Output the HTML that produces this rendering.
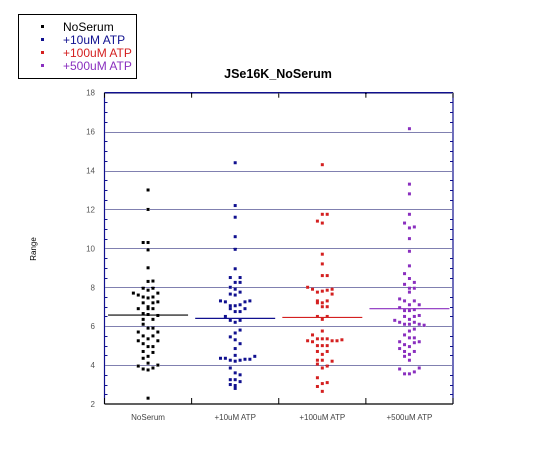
<!DOCTYPE html>
<html><head><meta charset="utf-8"><style>
body{margin:0;background:#fff;}
svg{display:block;font-family:"Liberation Sans",sans-serif;}
</style></head><body>
<svg id="chart" width="540" height="466" viewBox="0 0 540 466" xmlns="http://www.w3.org/2000/svg">
<rect width="540" height="466" fill="#fff"/>
<g>
<rect x="18.5" y="14.5" width="118" height="64" fill="#fff" stroke="#000" stroke-width="1"/>
<rect x="41" y="25" width="3" height="3" fill="#000"/>
<text x="63" y="31" font-size="12" fill="#000">NoSerum</text>
<rect x="41" y="38" width="3" height="3" fill="#10108f"/>
<text x="63" y="44" font-size="12" fill="#10108f">+10uM ATP</text>
<rect x="41" y="51" width="3" height="3" fill="#d42020"/>
<text x="63" y="57" font-size="12" fill="#d42020">+100uM ATP</text>
<rect x="41" y="64" width="3" height="3" fill="#8a2fbf"/>
<text x="63" y="70" font-size="12" fill="#8a2fbf">+500uM ATP</text>
</g>
<text x="278" y="78" font-size="12.5" font-weight="bold" text-anchor="middle">JSe16K_NoSerum</text>
<text transform="translate(36,249) rotate(-90)" font-size="8" text-anchor="middle">Range</text>
<g id="plot"></g>
</svg>
<script>
const categories = ["NoSerum","+10uM ATP","+100uM ATP","+500uM ATP"];
const colors = ["#000000","#10108f","#d42020","#8a2fbf"];
const yTicks = [2,4,6,8,10,12,14,16,18];
const means = [6.57, 6.4, 6.45, 6.9];
// [value, jitter slot]
const noSerum = [[13.0,0],[12.0,0],[10.3,-1],[10.3,0],[9.92,0],[9.0,0],[8.3,0],[8.32,1],[7.95,-1],[7.85,0],[7.95,1],[7.7,-3],[7.7,2],[7.6,-2],[7.5,-1],[7.45,0],[7.5,1],[7.2,-1],[7.2,1],[7.25,2],[7.0,0],[6.9,-2],[6.9,0],[6.9,1],[6.65,-1],[6.6,0],[6.55,2],[6.35,-1],[6.35,1],[6.1,-1],[5.9,0],[5.9,1],[5.7,-2],[5.7,2],[5.5,-1],[5.5,1],[5.35,0],[5.25,-2],[5.25,2],[5.1,-1],[4.95,0],[4.95,1],[4.7,-1],[4.65,1],[4.45,0],[4.35,-1],[4.1,0],[4.0,2],[3.95,-2],[3.85,1],[3.8,-1],[3.75,0],[2.3,0]];
const atp10 = [[14.4,0],[12.2,0],[11.6,0],[10.6,0],[9.95,0],[8.95,0],[8.5,-1],[8.5,1],[8.25,0],[8.25,1],[8.0,-1],[7.9,0],[7.75,1],[7.65,-1],[7.6,0],[7.3,-3],[7.3,3],[7.25,-2],[7.25,2],[7.05,-1],[7.05,0],[7.1,1],[6.9,-1],[6.9,2],[6.75,0],[6.75,1],[6.5,-2],[6.3,-1],[6.3,1],[6.2,0],[5.8,1],[5.65,0],[5.45,-1],[5.3,0],[5.1,1],[4.85,0],[4.5,0],[4.45,4],[4.35,-3],[4.35,-2],[4.3,2],[4.3,3],[4.25,-1],[4.25,1],[4.2,0],[3.85,-1],[3.6,0],[3.5,1],[3.25,-1],[3.25,0],[3.15,1],[3.0,-1],[2.95,0],[2.8,0]];
const atp100 = [[14.3,0],[11.75,0],[11.75,1],[11.4,-1],[11.3,0],[9.7,0],[9.2,0],[8.6,0],[8.6,1],[8.0,-3],[7.9,-2],[7.9,2],[7.8,0],[7.85,1],[7.75,-1],[7.65,2],[7.3,-1],[7.3,1],[7.2,-1],[7.2,0],[7.0,0],[7.0,1],[6.5,-1],[6.5,1],[6.35,0],[5.75,0],[5.55,-2],[5.35,-1],[5.35,0],[5.35,1],[5.25,-3],[5.25,2],[5.3,4],[5.2,-2],[5.25,3],[5.0,-1],[5.0,0],[5.0,1],[4.7,-1],[4.7,1],[4.55,0],[4.25,-1],[4.25,0],[4.2,2],[4.05,-1],[3.95,1],[3.85,0],[3.35,-1],[3.1,1],[3.05,0],[2.9,-1],[2.65,0]];
const atp500 = [[16.15,0],[13.3,0],[12.8,0],[11.75,0],[11.3,-1],[11.05,0],[11.1,1],[10.5,0],[9.85,0],[9.1,0],[8.7,-1],[8.45,0],[8.25,1],[8.15,-1],[7.95,0],[7.75,0],[7.95,1],[7.4,-2],[7.3,-1],[7.3,1],[7.1,0],[7.1,2],[6.95,-2],[6.8,-1],[6.8,0],[6.85,1],[6.55,2],[6.5,-1],[6.5,1],[6.35,0],[6.3,-3],[6.2,-2],[6.2,1],[6.1,-1],[6.1,0],[6.1,2],[6.05,3],[5.85,1],[5.75,0],[5.55,-1],[5.4,0],[5.4,1],[5.2,-2],[5.2,2],[5.15,1],[5.05,-1],[4.95,0],[4.85,-2],[4.7,-1],[4.7,1],[4.55,0],[4.45,-1],[4.25,0],[3.8,-2],[3.85,2],[3.65,1],[3.55,-1],[3.55,0]];
const series = [noSerum, atp10, atp100, atp500];

const NS = "http://www.w3.org/2000/svg";
const L = 104.5, R = 453, T = 92.7, B = 404;
const yMin = 2, yMax = 18;
function y(v){ return B - (v - yMin) / (yMax - yMin) * (B - T); }
const band = (R - L) / categories.length;
function xc(i){ return L + band * (i + 0.5); }
const plot = document.getElementById('plot');
function mk(tag, attrs, parent){
  const e = document.createElementNS(NS, tag);
  for (const k in attrs) e.setAttribute(k, attrs[k]);
  (parent || plot).appendChild(e);
  return e;
}
yTicks.forEach(t => {
  if (t > yMin && t <= yMax) {
    const yy = Math.round(y(t)) + 0.5;
    const g = mk('line', {x1:L, x2:R, y1:yy, y2:yy, stroke:'#000060', 'stroke-width':1, 'stroke-dasharray':'1,1', 'shape-rendering':'crispEdges'});
    
    
  }
  const lb = mk('text', {x:95, y:y(t)+3, 'font-size':8, fill:'#555', 'text-anchor':'end'});
  lb.textContent = t;
  
  
});
for (let v = yMin; v <= yMax + 0.001; v += 0.5) {
  const len = (Math.abs(v % 2) < 0.01) ? 0 : 3;
  if (len) {
    const yy = Math.round(y(v)) + 0.5;
    mk('line', {x1:L, x2:L+len, y1:yy, y2:yy, stroke:'#10108f', 'stroke-width':1, 'shape-rendering':'crispEdges'});
    mk('line', {x1:R-len, x2:R, y1:yy, y2:yy, stroke:'#10108f', 'stroke-width':1, 'shape-rendering':'crispEdges'});
  }
}
mk('line', {x1:L, x2:L, y1:T, y2:B, stroke:'#10108f', 'stroke-width':1.2});
mk('line', {x1:R, x2:R, y1:T, y2:B, stroke:'#10108f', 'stroke-width':1.2});
mk('line', {x1:L, x2:R, y1:B, y2:B, stroke:'#000', 'stroke-width':1.2});
mk('line', {x1:L, x2:R, y1:93.5, y2:93.5, stroke:'#000060', 'stroke-width':1, 'stroke-dasharray':'1,1', 'shape-rendering':'crispEdges'});
mk('line', {x1:L, x2:R, y1:92.5, y2:92.5, stroke:'#10108f', 'stroke-width':1, 'shape-rendering':'crispEdges'});
for (let i = 0; i <= categories.length; i++) {
  const xx = L + band * i;
  mk('line', {x1:xx, x2:xx, y1:T, y2:T+5, stroke:'#000', 'stroke-width':1});
  mk('line', {x1:xx, x2:xx, y1:B-6, y2:B, stroke:'#000', 'stroke-width':1});
}
categories.forEach((c, i) => {
  const t = mk('text', {x:xc(i), y:420, 'font-size':8, fill:'#444', 'text-anchor':'middle'});
  t.textContent = c;
  
  
  const m = mk('line', {x1:xc(i)-40, x2:xc(i)+40, y1:y(means[i]), y2:y(means[i]), stroke:colors[i], 'stroke-width':1.2});
  
  
  series[i].forEach(p => {
    const r = mk('rect', {x:xc(i) + p[1]*4.9 - 1.5, y:y(p[0]) - 1.5, width:3, height:3, fill:colors[i]});
    
    
  });
});
</script>
</body></html>
